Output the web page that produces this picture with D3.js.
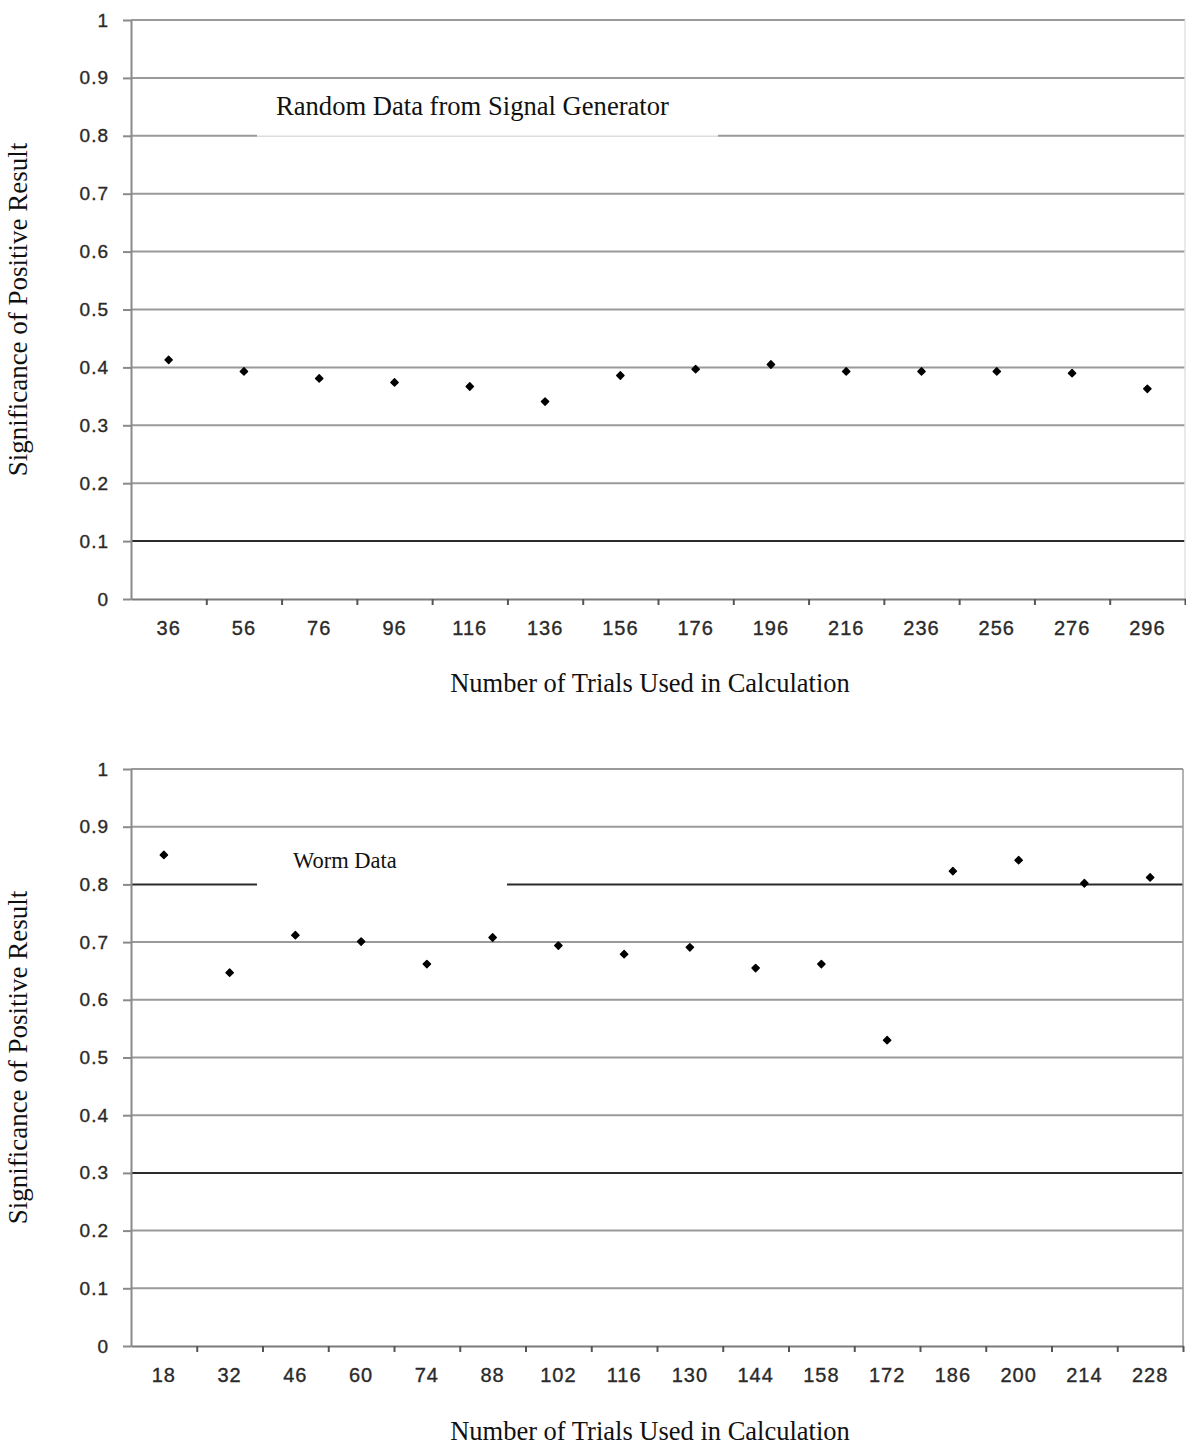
<!DOCTYPE html>
<html>
<head>
<meta charset="utf-8">
<script src="https://cdn.jsdelivr.net/npm/d3@7"></script>
<style>
  html, body { margin: 0; padding: 0; background: #fff; }
  svg { display: block; }
  .tick-label { font-family: "Liberation Sans", Arial, sans-serif; fill: #2a2a2a; stroke: #2a2a2a; stroke-width: 0.35px; }
  .serif { font-family: "Liberation Serif", "Times New Roman", serif; fill: #111; }
</style>
</head>
<body>
<svg id="chart" width="1186" height="1446"></svg>
<script>
// Significance values per number of trials: signal-generator run and worm run
const randomTrials = [36, 56, 76, 96, 116, 136, 156, 176, 196, 216, 236, 256, 276, 296];
const randomSignificance = [0.413, 0.393, 0.381, 0.374, 0.367, 0.341, 0.386, 0.397, 0.405, 0.393, 0.393, 0.393, 0.390, 0.363];

const wormTrials = [18, 32, 46, 60, 74, 88, 102, 116, 130, 144, 158, 172, 186, 200, 214, 228];
const wormSignificance = [0.851, 0.647, 0.712, 0.701, 0.662, 0.708, 0.694, 0.679, 0.691, 0.655, 0.662, 0.530, 0.823, 0.842, 0.802, 0.812];

const yTicks = [0, 0.1, 0.2, 0.3, 0.4, 0.5, 0.6, 0.7, 0.8, 0.9, 1];

const xTitle = "Number of Trials Used in Calculation";
const yTitle = "Significance of Positive Result";

const svg = d3.select("#chart");

function drawPanel(cfg) {
  const g = svg.append("g");
  const y = d3.scaleLinear().domain([0, 1]).range([cfg.bottom, cfg.top]);
  const x = d3.scaleBand().domain(cfg.categories).range([cfg.left, cfg.right]).padding(0);
  const edges = d3.scaleLinear().domain([0, cfg.categories.length]).range([cfg.left, cfg.right]);

  // horizontal grid lines, with the threshold lines drawn darker
  g.append("g").selectAll("line").data(yTicks.filter(d => d > 0)).join("line")
    .attr("x1", cfg.left).attr("x2", cfg.right)
    .attr("y1", d => y(d)).attr("y2", d => y(d))
    .attr("stroke", d => cfg.darkLines.includes(d) ? "#2b2b2b" : "#9a9a9a")
    .attr("stroke-width", 2);

  // right border of the plot area
  g.append("line")
    .attr("x1", cfg.right).attr("x2", cfg.right)
    .attr("y1", y(1)).attr("y2", y(0))
    .attr("stroke", cfg.rightStroke).attr("stroke-width", 1.5);

  // caption box sitting on the grid
  g.append("rect")
    .attr("x", cfg.box.x0).attr("width", cfg.box.x1 - cfg.box.x0)
    .attr("y", y(0.9) + 1.5).attr("height", y(0.8) - y(0.9))
    .attr("fill", "#fff");
  g.append("line")
    .attr("x1", cfg.box.x0).attr("x2", cfg.box.x1)
    .attr("y1", y(0.8) + 0.5).attr("y2", y(0.8) + 0.5)
    .attr("stroke", cfg.box.edge).attr("stroke-width", 1.5);
  g.append("text").attr("class", "serif")
    .attr("x", cfg.box.textX).attr("y", cfg.box.textY)
    .style("font-size", cfg.box.size + "px")
    .text(cfg.box.label);

  // y axis
  const yAxis = d3.axisLeft(y).tickValues(yTicks)
    .tickFormat(d3.format("~g")).tickSize(8).tickSizeOuter(0).tickPadding(14);
  const ya = g.append("g").attr("transform", `translate(${cfg.left},0)`).call(yAxis);
  ya.select(".domain").attr("stroke", "#8a8a8a").attr("stroke-width", 2);
  ya.selectAll(".tick line").attr("stroke", "#8a8a8a").attr("stroke-width", 2);
  ya.selectAll(".tick text").attr("class", "tick-label")
    .style("font-size", "19px").style("letter-spacing", "1px");

  // x axis: labels centred on categories, tick marks on category edges
  const xAxis = d3.axisBottom(x).tickSize(0).tickSizeOuter(0).tickPadding(22);
  const xa = g.append("g").attr("transform", `translate(0,${cfg.bottom})`).call(xAxis);
  xa.select(".domain").attr("stroke", "#7a7a7a").attr("stroke-width", 2);
  xa.selectAll(".tick text").attr("class", "tick-label")
    .style("font-size", "20px").style("letter-spacing", "1px");

  const edgeAxis = d3.axisBottom(edges).tickValues(d3.range(1, cfg.categories.length + 1))
    .tickFormat("").tickSize(6).tickSizeOuter(0);
  const ea = g.append("g").attr("transform", `translate(0,${cfg.bottom})`).call(edgeAxis);
  ea.select(".domain").remove();
  ea.selectAll(".tick line").attr("stroke", "#555").attr("stroke-width", 2);

  // data points
  g.append("g").selectAll("path").data(cfg.values).join("path")
    .attr("d", d3.symbol(d3.symbolDiamond2, 34))
    .attr("transform", (d, i) => `translate(${x(cfg.categories[i]) + x.bandwidth() / 2},${y(d)})`)
    .attr("fill", "#000")
    .attr("stroke", "#000").attr("stroke-width", 1.4).attr("stroke-linejoin", "round");

  // axis titles
  g.append("text").attr("class", "serif")
    .attr("x", cfg.xTitleX).attr("y", cfg.xTitleY)
    .attr("text-anchor", "middle")
    .style("font-size", "26.5px")
    .text(xTitle);
  g.append("text").attr("class", "serif")
    .attr("transform", `translate(27,${(cfg.top + cfg.bottom) / 2}) rotate(-90)`)
    .attr("text-anchor", "middle")
    .style("font-size", "27px")
    .text(yTitle);
}

drawPanel({
  top: 20, bottom: 599, left: 131, right: 1185,
  categories: randomTrials, values: randomSignificance,
  darkLines: [0.1],
  rightStroke: "#e2e2e2",
  box: { x0: 257, x1: 718, textX: 276, textY: 115, size: 26.6, label: "Random Data from Signal Generator", edge: "#dddddd" },
  xTitleX: 650, xTitleY: 692
});

drawPanel({
  top: 769, bottom: 1346, left: 131, right: 1183,
  categories: wormTrials, values: wormSignificance,
  darkLines: [0.8, 0.3],
  rightStroke: "#9a9a9a",
  box: { x0: 257, x1: 507, textX: 293, textY: 868, size: 22.5, label: "Worm Data", edge: "#ffffff" },
  xTitleX: 650, xTitleY: 1440
});
</script>
</body>
</html>
